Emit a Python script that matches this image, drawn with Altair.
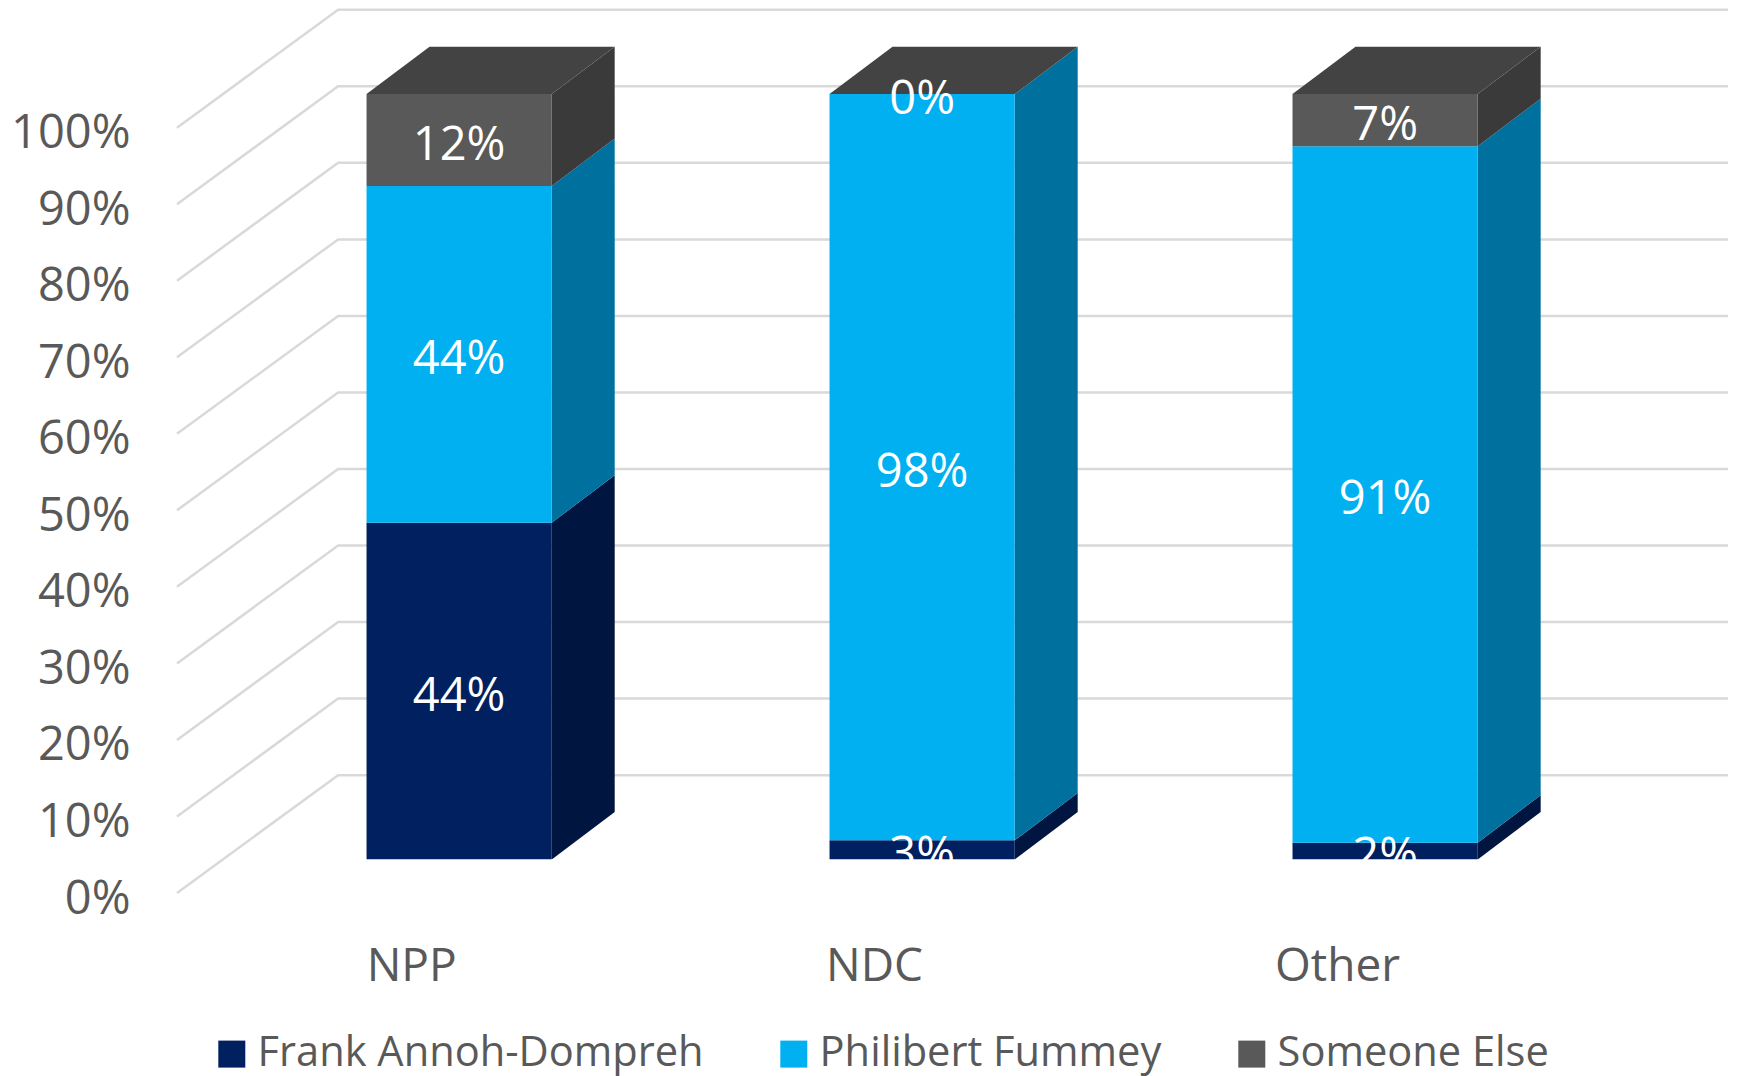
import altair as alt
import pandas as pd

categories = ["NPP", "NDC", "Other"]
series = ["Frank Annoh-Dompreh", "Philibert Fummey", "Someone Else"]
frank = [44.0, 2.5, 2.2]
philibert = [44.0, 97.5, 91.0]
someone = [12.0, 0.0, 6.8]
shown_frank = ["44%", "3%", "2%"]
shown_philibert = ["44%", "98%", "91%"]
shown_someone = ["12%", "0%", "7%"]
ticks = list(range(0, 101, 10))

front_colors = ["#002060", "#00B0F0", "#595959"]
side_colors = ["#001540", "#00709E", "#3A3A3A"]
top_color = "#434343"
FONT = "Open Sans"
GREY = "#595959"

# pseudo-3D projection, in data units
X0, X1 = -0.51, 2.84
Y1 = 115.37
WALL_X, WALL_Y = 0.348, 15.4
BAR_X, BAR_Y = 0.0994, 4.38
DEPTH_X, DEPTH_Y = 0.136, 6.2
HALF = 0.2

xs = alt.Scale(domain=[X0, X1], nice=False, zero=False)
ys = alt.Scale(domain=[0, Y1], nice=False, zero=False)

x_axis = alt.Axis(
    values=[0, 1, 2], grid=False, domain=False, ticks=False, title=None,
    labelExpr="['NPP','NDC','Other'][datum.value]", labelOffset=-2,
    labelFontSize=46, labelFont=FONT, labelColor=GREY, labelPadding=51)
y_axis = alt.Axis(
    values=ticks, grid=False, domain=False, ticks=False, title=None,
    labelExpr="datum.value + '%'", labelOffset=6,
    labelFontSize=47, labelFont=FONT, labelColor=GREY, labelPadding=47)

grid_rows = []
for v in ticks:
    grid_rows += [
        dict(tick=v, step=0, x=X0, y=v),
        dict(tick=v, step=1, x=X0 + WALL_X, y=v + WALL_Y),
        dict(tick=v, step=2, x=X1, y=v + WALL_Y),
    ]

front, side, top, text, mask = [], [], [], [], []
for i, cat in enumerate(categories):
    cx = i + BAR_X
    left, right = cx - HALF, cx + HALF
    base = 0.0
    vals = [frank[i], philibert[i], someone[i]]
    shown = [shown_frank[i], shown_philibert[i], shown_someone[i]]
    for s, name in enumerate(series):
        lo = BAR_Y + base
        hi = lo + vals[s]
        base += vals[s]
        front.append(dict(x=left, x2=right, y=lo, y2=hi, series=name))
        fid = f"{i}-{s}"
        side.append(dict(face=fid, x=right, y=lo, y2=hi, color=side_colors[s]))
        side.append(dict(face=fid, x=right + DEPTH_X, y=lo + DEPTH_Y, y2=hi + DEPTH_Y, color=side_colors[s]))
        text.append(dict(x=cx, y=(lo + hi) / 2, label=shown[s]))
    t = BAR_Y + base
    top.append(dict(face=i, x=left, x2=right, y=t))
    top.append(dict(face=i, x=left + DEPTH_X, x2=right + DEPTH_X, y=t + DEPTH_Y))
    mask.append(dict(x=left - 0.003, x2=right + 0.003, y=0.5, y2=BAR_Y))

grid = alt.Chart(pd.DataFrame(grid_rows)).mark_line(color="#D9D9D9", strokeWidth=2.5).encode(
    x=alt.X("x:Q", scale=xs, axis=x_axis),
    y=alt.Y("y:Q", scale=ys, axis=y_axis),
    detail="tick:N",
    order="step:Q",
)

sides = alt.Chart(pd.DataFrame(side)).mark_area(orient="vertical").encode(
    x=alt.X("x:Q", scale=xs, axis=x_axis),
    y=alt.Y("y:Q", scale=ys, axis=y_axis, stack=None),
    y2="y2:Q",
    detail="face:N",
    color=alt.Color("color:N", scale=None, legend=None),
)

tops = alt.Chart(pd.DataFrame(top)).mark_area(orient="horizontal", color=top_color).encode(
    y=alt.Y("y:Q", scale=ys, axis=y_axis),
    x=alt.X("x:Q", scale=xs, axis=x_axis, stack=None),
    x2="x2:Q",
    detail="face:N",
)

fronts = alt.Chart(pd.DataFrame(front)).mark_rect().encode(
    x=alt.X("x:Q", scale=xs, axis=x_axis),
    x2="x2:Q",
    y=alt.Y("y:Q", scale=ys, axis=y_axis),
    y2="y2:Q",
    color=alt.Color("series:N", scale=alt.Scale(domain=series, range=front_colors), legend=alt.Legend(
        title=None, orient="none", legendX=34, legendY=1023, direction="horizontal", columns=3,
        symbolType="square", symbolSize=729, symbolStrokeWidth=0, labelFont=FONT, labelFontSize=41.6,
        labelColor=GREY, labelOffset=5, columnPadding=69, padding=0, labelLimit=700)),
)

labels = alt.Chart(pd.DataFrame(text)).mark_text(color="white", font=FONT, fontSize=47, baseline="middle", dy=6).encode(
    x=alt.X("x:Q", scale=xs, axis=x_axis),
    y=alt.Y("y:Q", scale=ys, axis=y_axis),
    text="label:N",
)

masks = alt.Chart(pd.DataFrame(mask)).mark_rect(color="white").encode(
    x=alt.X("x:Q", scale=xs, axis=x_axis),
    x2="x2:Q",
    y=alt.Y("y:Q", scale=ys, axis=y_axis),
    y2="y2:Q",
)

chart = alt.layer(grid, sides, tops, fronts, labels, masks).resolve_scale(color="independent").properties(
    width=1551,
    height=883,
    padding={"left": 169, "top": 2, "right": 1, "bottom": 183},
    autosize=alt.AutoSizeParams(type="none"),
    background="white",
).configure_view(stroke=None)

chart.save("out.html", embed_options={"renderer": "svg", "actions": False})
